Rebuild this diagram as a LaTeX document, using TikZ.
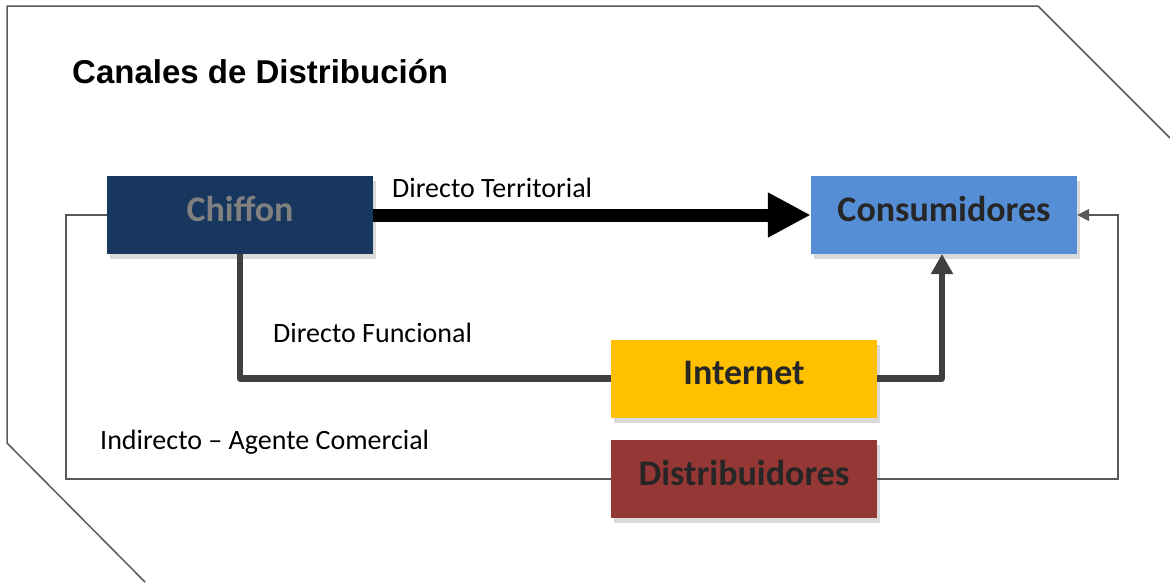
\documentclass[tikz,border=0pt]{standalone}
\usepackage{fontspec}
\setmainfont{Carlito}
\newfontfamily\titlefont{Liberation Sans}
\usetikzlibrary{arrows.meta,shadows}
\definecolor{navy}{HTML}{17375E}
\definecolor{sky}{HTML}{558ED5}
\definecolor{gold}{HTML}{FFC000}
\definecolor{brick}{HTML}{953735}
\definecolor{ink}{HTML}{262626}
\definecolor{wire}{HTML}{404040}
\definecolor{frame}{HTML}{595959}
\tikzset{
  canal/.style = {minimum width=266pt, minimum height=78pt, inner sep=0pt,
    text height=26pt, text depth=14pt,
    font=\fontsize{36}{40}\selectfont\bfseries, text=ink,
    drop shadow={shadow xshift=3pt, shadow yshift=-5pt, opacity=0.3}},
  etiqueta/.style = {anchor=base west, inner sep=0pt,
    font=\fontsize{28}{32}\selectfont},
  grueso/.style = {line width=6.5pt, draw=wire, line join=round},
  fino/.style = {line width=1.5pt, draw=frame}
}
\begin{document}
\begin{tikzpicture}[x=1pt, y=-1pt]
\useasboundingbox (0,0) rectangle (1170,582);
\draw[fino] (145,582) -- (7,443) -- (7,6) -- (1038,6) -- (1170,138) ;
\node[anchor=base west, inner sep=0pt, font=\titlefont\fontsize{33}{36}\selectfont\bfseries] (titulo) at (72,83) {Canales de Distribución};
% cajas
\node[canal, fill=navy, text=black!50] (chiffon) at (240,215) {Chif{}fon};
\node[canal, fill=sky] (consumidores) at (944,215) {Consumidores};
\node[canal, fill=gold] (internet) at (744,378.5) {Internet};
\node[canal, fill=brick] (distribuidores) at (744,479) {Distribuidores};
% canales
\draw[fino, -{Triangle[length=12pt,width=12pt]}] (chiffon.west) -- (66,215) -- (66,479)
  -- (distribuidores.west) (distribuidores.east) -- (1118,479) -- (1118,215) -- (consumidores.east) ;
\draw[grueso] (chiffon.south -| 240,0) -- (240,378.5) -- (internet.west) ;
\draw[grueso, -{Triangle[length=20pt,width=21pt]}] (internet.east) -- (942,378.5) -- (942,254) ;
\draw[line width=13pt, -{Triangle[length=43pt,width=42pt]}] (chiffon.east) -- (consumidores.west) ;
% textos
\node[etiqueta] (territorial) at (392,197) {Directo Territorial};
\node[etiqueta] (funcional) at (273,342) {Directo Funcional};
\node[etiqueta] (indirecto) at (100,449) {Indirecto – Agente Comercial};
\end{tikzpicture}
\end{document}
